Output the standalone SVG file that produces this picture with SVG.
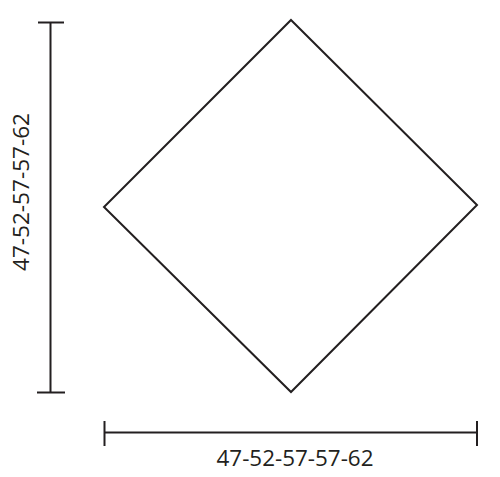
<svg xmlns="http://www.w3.org/2000/svg" width="500" height="477" viewBox="0 0 500 477">
<style>
.ln{stroke:#231f20;stroke-width:2;fill:none}
.lbl{font-family:"Open Sans","Noto Sans",sans-serif;font-size:21px;fill:#231f20;text-anchor:middle}
</style>
<rect width="500" height="477" fill="#fff"/>
<g id="diamond">
<polygon class="ln" points="291,20 477,205 291,392 104,207"/>
</g>
<g id="connectors">
<line class="ln" x1="50.5" y1="22.5" x2="50.5" y2="392.5"/>
<line class="ln" x1="38" y1="22.5" x2="64" y2="22.5"/>
<line class="ln" x1="37" y1="392.5" x2="65" y2="392.5"/>
<line class="ln" x1="104.5" y1="432.5" x2="477" y2="432.5"/>
<line class="ln" x1="104.5" y1="421" x2="104.5" y2="446"/>
<line class="ln" x1="477" y1="421" x2="477" y2="446"/>
</g>
<g id="labels">
<text class="lbl" x="295" y="466" textLength="157" lengthAdjust="spacingAndGlyphs">47-52-57-57-62</text>
<text class="lbl" transform="translate(28.5,192) rotate(-90)" textLength="158" lengthAdjust="spacingAndGlyphs">47-52-57-57-62</text>
</g>
</svg>
